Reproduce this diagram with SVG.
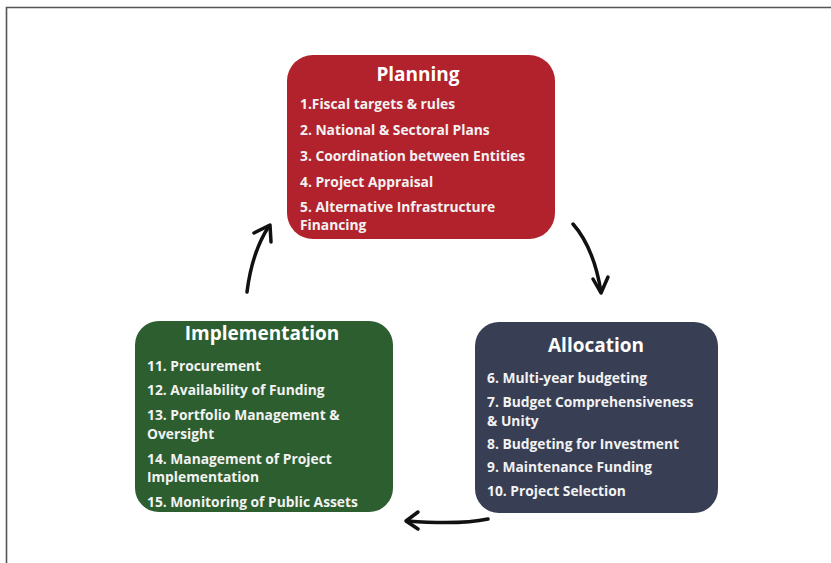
<svg xmlns="http://www.w3.org/2000/svg" width="831" height="563" viewBox="0 0 831 563">
<defs>
<style>
.title{font-family:"Open Sans","Liberation Sans",sans-serif;font-weight:bold;font-size:19px;fill:#ffffff;text-anchor:middle}
.item{font-family:"Open Sans","Liberation Sans",sans-serif;font-weight:bold;font-size:13.8px;fill:#f2f2f2}
.conn{fill:none;stroke:#111111;stroke-width:3.5;stroke-linecap:round}
.head{fill:none;stroke:#111111;stroke-width:3.5;stroke-linecap:round;stroke-linejoin:round}
</style>
</defs>
<rect width="831" height="563" fill="#ffffff"/>
<path d="M6.5 563 V7.5 H831" fill="none" stroke="#555555" stroke-width="1.6"/>
<g id="planning">
<rect x="287" y="55" width="268" height="184" rx="26" fill="#b2222d"/>
<text class="title" x="418" y="81">Planning</text>
<text class="item" x="300" y="109">1.Fiscal targets &amp; rules</text>
<text class="item" x="300" y="135">2. National &amp; Sectoral Plans</text>
<text class="item" x="300" y="161">3. Coordination between Entities</text>
<text class="item" x="300" y="187">4. Project Appraisal</text>
<text class="item" x="300" y="212">5. Alternative Infrastructure</text>
<text class="item" x="300" y="230">Financing</text>
</g>
<g id="implementation">
<rect x="135" y="321" width="258" height="191" rx="24" fill="#2d5e2f"/>
<text class="title" x="262" y="340">Implementation</text>
<text class="item" x="147" y="371">11. Procurement</text>
<text class="item" x="147" y="395">12. Availability of Funding</text>
<text class="item" x="147" y="420">13. Portfolio Management &amp;</text>
<text class="item" x="147" y="439">Oversight</text>
<text class="item" x="147" y="464">14. Management of Project</text>
<text class="item" x="147" y="482">Implementation</text>
<text class="item" x="147" y="507">15. Monitoring of Public Assets</text>
</g>
<g id="allocation">
<rect x="475" y="322" width="243" height="191" rx="24" fill="#383f55"/>
<text class="title" x="596" y="352">Allocation</text>
<text class="item" x="487" y="383">6. Multi-year budgeting</text>
<text class="item" x="487" y="407">7. Budget Comprehensiveness</text>
<text class="item" x="487" y="426">&amp; Unity</text>
<text class="item" x="487" y="449">8. Budgeting for Investment</text>
<text class="item" x="487" y="472">9. Maintenance Funding</text>
<text class="item" x="487" y="496">10. Project Selection</text>
</g>
<g id="connectors">
<path class="conn" d="M573 224 Q594 248 601 292"/>
<path class="head" d="M593 279 L601 293 L608 277"/>
<path class="conn" d="M488 519 Q460 525 407 521"/>
<path class="head" d="M418 512 L406 521 L418 529"/>
<path class="conn" d="M247 292 Q252 252 269 226"/>
<path class="head" d="M254 233 L270 225 L271 242"/>
</g>
</svg>
